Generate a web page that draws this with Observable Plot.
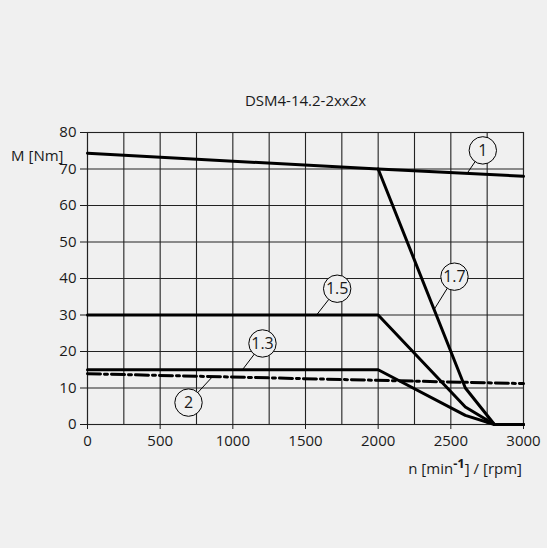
<!DOCTYPE html>
<html>
<head>
<meta charset="utf-8">
<script src="https://cdn.jsdelivr.net/npm/d3@7"></script>
<script src="https://cdn.jsdelivr.net/npm/@observablehq/plot@0.6"></script>
<style>
  html, body { margin: 0; padding: 0; background: #f0f0f0; }
  #chart svg { display: block; }
</style>
</head>
<body>
<div id="chart"></div>
<script>
// ---- data ----
const chartTitle = "DSM4-14.2-2xx2x";
const yAxisLabel = "M [Nm]";
const xTicks = [0, 500, 1000, 1500, 2000, 2500, 3000];
const yTicks = [0, 10, 20, 30, 40, 50, 60, 70, 80];
const xGrid = [0, 250, 500, 750, 1000, 1250, 1500, 1750, 2000, 2250, 2500, 2750, 3000];

const curve1Speed = [0, 2000, 3000];
const curve1Torque = [74.3, 70, 68];
const curve17Speed = [2000, 2600, 2800, 3000];
const curve17Torque = [70, 10, 0, 0];
const curve15Speed = [0, 2000, 2600, 2800, 3000];
const curve15Torque = [30, 30, 4.8, 0, 0];
const curve13Speed = [0, 2000, 2600, 2800, 3000];
const curve13Torque = [15, 15, 2.5, 0, 0];
const curve2Speed = [0, 3000];
const curve2Torque = [13.9, 11.2];

// callout labels (data coordinates): circle centre and leader target
const calloutNames = ["1", "1.7", "1.5", "1.3", "2"];
const calloutX = [2720, 2525, 1718, 1204, 695];
const calloutY = [75.1, 40.5, 37.2, 22.2, 6.0];
const calloutTargetX = [2617, 2385, 1576, 1066, 860];
const calloutTargetY = [69.1, 31.5, 30, 15, 13.1];

// ---- build tables ----
function series(name, xs, ys) { return xs.map((x, i) => ({name, speed: x, torque: ys[i]})); }
const solid = [
  ...series("1", curve1Speed, curve1Torque),
  ...series("1.7", curve17Speed, curve17Torque),
  ...series("1.5", curve15Speed, curve15Torque),
  ...series("1.3", curve13Speed, curve13Torque)
];
const dashed = series("2", curve2Speed, curve2Torque);
const callouts = calloutNames.map((n, i) => ({
  name: n, x: calloutX[i], y: calloutY[i], tx: calloutTargetX[i], ty: calloutTargetY[i]
}));

const bg = "#f0f0f0";
const ink = "#1a1a1a";
const fs = 15;

const chart = Plot.plot({
  width: 547,
  height: 548,
  marginLeft: 87,
  marginRight: 24,
  marginTop: 132,
  marginBottom: 124,
  style: {background: bg, fontFamily: "'Open Sans', sans-serif", fontSize: fs + "px", color: ink},
  x: {domain: [0, 3000]},
  y: {domain: [0, 80]},
  marks: [
    Plot.ruleX(xGrid, {stroke: "#222", strokeWidth: 1.1}),
    Plot.ruleY(yTicks, {stroke: "#222", strokeWidth: 1.1}),
    Plot.frame({stroke: "#222", strokeWidth: 1.1}),
    Plot.axisX(xTicks, {tickSize: 5, tickPadding: 6, label: null, fontSize: fs, stroke: ink, tickFormat: d => String(d)}),
    Plot.axisY(yTicks, {tickSize: 7, tickPadding: 4, label: null, fontSize: fs, stroke: ink, tickFormat: d => String(d)}),
    Plot.line(dashed, {x: "speed", y: "torque", stroke: "black", strokeWidth: 3, strokeDasharray: "13,4,3,4"}),
    Plot.line(solid, {x: "speed", y: "torque", z: "name", stroke: "black", strokeWidth: 3}),
    Plot.link(callouts, {x1: "x", y1: "y", x2: "tx", y2: "ty", stroke: "black", strokeWidth: 1}),
    Plot.dot(callouts, {x: "x", y: "y", r: 13.7, fill: bg, stroke: "black", strokeWidth: 1}),
    Plot.text(callouts, {x: "x", y: "y", text: "name", fontSize: 16, fill: ink}),
    Plot.text([chartTitle], {frameAnchor: "top", dy: -37, fontSize: 15, fill: ink}),
    Plot.text([yAxisLabel], {frameAnchor: "top-left", dx: -24, dy: 18, textAnchor: "end", fontSize: fs, fill: ink})
  ]
});

document.getElementById("chart").appendChild(chart);

// x axis label with superscript
const svg = d3.select(chart);
const xl = svg.append("text")
  .attr("x", 522).attr("y", 474)
  .attr("text-anchor", "end")
  .attr("font-family", "'Open Sans', sans-serif")
  .attr("font-size", fs)
  .attr("fill", ink);
xl.append("tspan").text("n [min");
xl.append("tspan").attr("dy", -6).attr("font-size", 13).attr("font-weight", "bold").text("-1");
xl.append("tspan").attr("dy", 6).text("] / [rpm]");
</script>
</body>
</html>
